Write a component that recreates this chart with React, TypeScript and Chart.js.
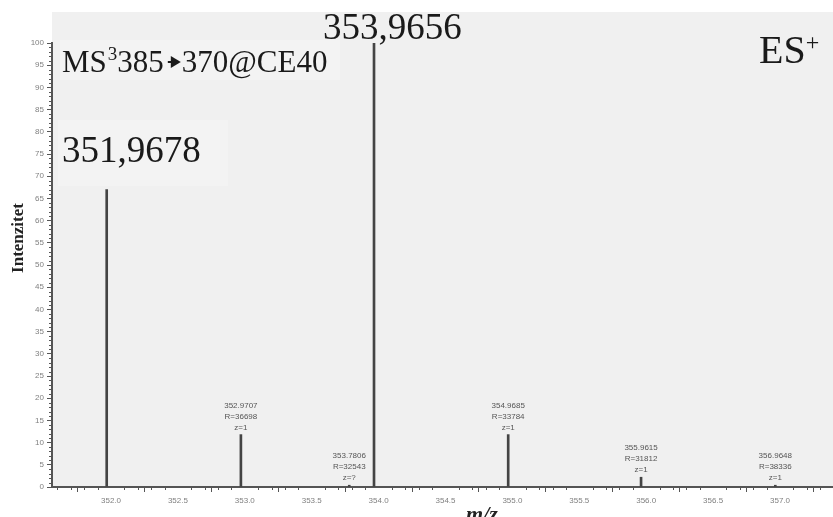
import React, { useEffect, useRef } from "react";
import { Chart, registerables } from "chart.js";

Chart.register(...registerables);

const peakMz = [351.9678, 352.9707, 353.7806, 353.9656, 354.9685, 355.9615, 356.9648];
const peakIntensity = [67, 11.8, 0.4, 100, 11.8, 2.2, 0.4];
const peakMzText = ["", "352.9707", "353.7806", "", "354.9685", "355.9615", "356.9648"];
const peakRText = ["", "R=36698", "R=32543", "", "R=33784", "R=31812", "R=38336"];
const peakZText = ["", "z=1", "z=?", "", "z=1", "z=1", "z=1"];
const xTicks = [352.0, 352.5, 353.0, 353.5, 354.0, 354.5, 355.0, 355.5, 356.0, 356.5, 357.0];
const yTicks = [0, 5, 10, 15, 20, 25, 30, 35, 40, 45, 50, 55, 60, 65, 70, 75, 80, 85, 90, 95, 100];
const xMin = 351.559;
const xMax = 357.396;
const bigLabelLeft = "351,9678";
const bigLabelTop = "353,9656";

const SERIF = "'Liberation Serif', 'Times New Roman', serif";
const SANS = "'Liberation Sans', Arial, sans-serif";

const decorPlugin = {
  id: "decor",
  beforeDraw(chart: any) {
    const { ctx, chartArea } = chart;
    ctx.save();
    ctx.fillStyle = "#ffffff";
    ctx.fillRect(0, 0, chart.width, chart.height);
    ctx.fillStyle = "#f0f0f0";
    ctx.fillRect(chartArea.left, 12, chartArea.right - chartArea.left, chartArea.bottom - 12);
    // subtle lighter boxes behind large labels
    ctx.fillStyle = "#f3f3f3";
    ctx.fillRect(58, 120, 170, 66);
    ctx.fillRect(60, 40, 280, 40);
    ctx.restore();
  },
  afterDraw(chart: any) {
    const { ctx, chartArea, scales } = chart;
    const xs = scales.x;
    const ys = scales.y;
    ctx.save();
    // minor ticks
    ctx.strokeStyle = "#555";
    ctx.lineWidth = 1;
    ctx.beginPath();
    for (let i = Math.ceil(xMin * 10); i <= Math.floor(xMax * 10); i++) {
      if (i % 5 === 0) continue;
      const px = Math.round(xs.getPixelForValue(i / 10)) + 0.5;
      ctx.moveTo(px, chartArea.bottom);
      ctx.lineTo(px, chartArea.bottom + 3);
    }
    for (let v = 0; v <= 100; v++) {
      if (v % 5 === 0) continue;
      const py = Math.round(ys.getPixelForValue(v)) + 0.5;
      ctx.moveTo(chartArea.left, py);
      ctx.lineTo(chartArea.left - 3, py);
    }
    ctx.stroke();

    // small peak annotations
    ctx.fillStyle = "#555";
    ctx.font = `8px ${SANS}`;
    ctx.textAlign = "center";
    ctx.textBaseline = "bottom";
    for (let i = 0; i < peakMz.length; i++) {
      if (!peakMzText[i]) continue;
      const px = xs.getPixelForValue(peakMz[i]);
      const top = ys.getPixelForValue(peakIntensity[i]) - 3;
      ctx.fillText(peakZText[i], px, top);
      ctx.fillText(peakRText[i], px, top - 11);
      ctx.fillText(peakMzText[i], px, top - 22);
    }

    // big labels
    ctx.fillStyle = "#1a1a1a";
    ctx.textAlign = "left";
    ctx.textBaseline = "alphabetic";
    ctx.font = `37px ${SERIF}`;
    ctx.fillText(bigLabelTop, 323, 39);
    ctx.fillText(bigLabelLeft, 62, 162);

    // MS3 label
    let x = 62;
    const base = 72;
    ctx.font = `31px ${SERIF}`;
    ctx.fillText("MS", x, base);
    x += ctx.measureText("MS").width;
    ctx.font = `19px ${SERIF}`;
    ctx.fillText("3", x + 1, base - 12);
    x += ctx.measureText("3").width + 1;
    ctx.font = `31px ${SERIF}`;
    ctx.fillText("385", x, base);
    x += ctx.measureText("385").width + 4;
    // arrow
    ctx.beginPath();
    ctx.moveTo(x, base - 10);
    ctx.lineTo(x + 4, base - 10);
    ctx.lineWidth = 2;
    ctx.strokeStyle = "#1a1a1a";
    ctx.stroke();
    ctx.beginPath();
    ctx.moveTo(x + 3, base - 16);
    ctx.lineTo(x + 13, base - 10);
    ctx.lineTo(x + 3, base - 4);
    ctx.closePath();
    ctx.fill();
    x += 14;
    ctx.fillText("370@CE40", x, base);

    // ES+
    ctx.font = `40px ${SERIF}`;
    ctx.fillText("ES", 759, 63);
    const esw = ctx.measureText("ES").width;
    ctx.font = `24px ${SERIF}`;
    ctx.fillText("+", 759 + esw, 50);

    // axis titles
    ctx.save();
    ctx.translate(23, 238);
    ctx.rotate(-Math.PI / 2);
    ctx.font = `bold 17px ${SERIF}`;
    ctx.textAlign = "center";
    ctx.fillStyle = "#222";
    ctx.fillText("Intenzitet", 0, 0);
    ctx.restore();

    ctx.font = `italic bold 22px ${SERIF}`;
    ctx.textAlign = "center";
    ctx.fillStyle = "#222";
    ctx.fillText("m/z", 482, 521);
    ctx.restore();
  },
};

export default function App() {
  const ref = useRef<HTMLCanvasElement | null>(null);
  useEffect(() => {
    document.body.style.margin = "0";
    const canvas = ref.current;
    if (!canvas) return;
    const chart = new Chart(canvas, {
      type: "bar",
      data: {
        datasets: [
          {
            data: peakMz.map((m, i) => ({ x: m, y: peakIntensity[i] })),
            backgroundColor: "#444",
            borderWidth: 0,
            barThickness: 2,
          },
        ],
      },
      options: {
        responsive: false,
        animation: false,
        layout: { padding: { top: 43, right: 0, left: 0, bottom: 0 } },
        plugins: { legend: { display: false }, tooltip: { enabled: false } },
        scales: {
          x: {
            type: "linear",
            min: xMin,
            max: xMax,
            offset: false,
            afterBuildTicks: (s: any) => {
              s.ticks = xTicks.map((v) => ({ value: v }));
            },
            afterFit: (s: any) => {
              s.height = 30;
            },
            grid: { display: true, drawOnChartArea: false, drawTicks: true, tickLength: 5, color: "#555" },
            border: { display: true, color: "#555", width: 2 },
            ticks: {
              font: { family: "Liberation Sans", size: 8 },
              color: "#808080",
              padding: 4,
              maxRotation: 0,
              autoSkip: false,
              callback: (v: any) => Number(v).toFixed(1),
            },
          },
          y: {
            type: "linear",
            min: 0,
            max: 100,
            afterBuildTicks: (s: any) => {
              s.ticks = yTicks.map((v) => ({ value: v }));
            },
            afterFit: (s: any) => {
              s.width = 52;
            },
            grid: { display: true, drawOnChartArea: false, drawTicks: true, tickLength: 5, color: "#555" },
            border: { display: true, color: "#555", width: 2 },
            ticks: {
              font: { family: "Liberation Sans", size: 8 },
              color: "#808080",
              padding: 3,
              autoSkip: false,
            },
          },
        },
      },
      plugins: [decorPlugin],
    });
    return () => chart.destroy();
  }, []);
  return (
    <div style={{ position: "absolute", left: 0, top: 0, width: 833, height: 517 }}>
      <canvas ref={ref} width={833} height={517} style={{ display: "block" }} />
    </div>
  );
}
